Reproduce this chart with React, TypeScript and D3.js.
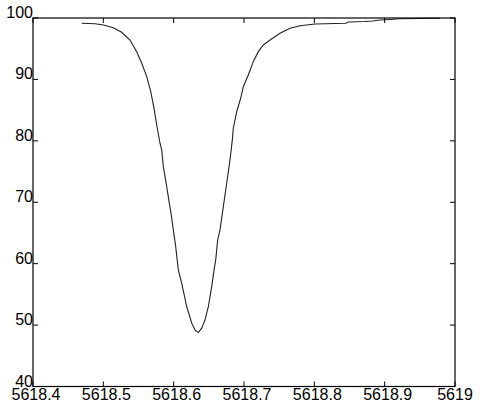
import React from "react";
import * as d3 from "d3";

// Wavelength (Å) and normalised flux (%) of the absorption line profile
const wavelength = [
  5618.4692, 5618.4882, 5618.5, 5618.5142, 5618.5261, 5618.5379, 5618.5474, 5618.5546,
  5618.5617, 5618.5674, 5618.572, 5618.5767, 5618.5806, 5618.583, 5618.5853, 5618.5901,
  5618.5938, 5618.5962, 5618.5995, 5618.6029, 5618.6066, 5618.6114, 5618.6185, 5618.6257,
  5618.6303, 5618.635, 5618.6399, 5618.6446, 5618.6493, 5618.6541, 5618.6574, 5618.6598,
  5618.6626, 5618.6659, 5618.6706, 5618.6754, 5618.6801, 5618.6834, 5618.6848, 5618.6896,
  5618.6953, 5618.699, 5618.7061, 5618.7132, 5618.7203, 5618.7275, 5618.737, 5618.7512,
  5618.7654, 5618.7796, 5618.801, 5618.845, 5618.8479, 5618.8721, 5618.8825, 5618.8934,
  5618.9076, 5618.9218, 5618.9503, 5618.9787,
];
const flux = [
  99.14, 99.07, 98.86, 98.42, 97.67, 96.42, 94.52, 92.63,
  90.45, 88.01, 85.31, 82.05, 79.61, 78.52, 75.8, 72.55,
  69.85, 68.22, 65.5, 62.78, 58.99, 56.83, 53.02, 50.32,
  49.23, 48.79, 49.5, 50.85, 53.02, 56.27, 58.99, 60.62,
  63.87, 65.5, 69.29, 73.1, 76.89, 80.15, 82.05, 84.75,
  86.93, 88.82, 90.72, 92.89, 94.52, 95.61, 96.42, 97.51,
  98.32, 98.75, 99.02, 99.14, 99.35, 99.43, 99.51, 99.67,
  99.76, 99.87, 99.92, 99.95,
];

const xTicks = [5618.4, 5618.5, 5618.6, 5618.7, 5618.8, 5618.9, 5619];
const xTickLabels = ["5618.4", "5618.5", "5618.6", "5618.7", "5618.8", "5618.9", "5619"];
const yTicks = [40, 50, 60, 70, 80, 90, 100];

const W = 480;
const H = 409;
const left = 33;
const right = 455;
const top = 18;
const bottom = 386.5;
const tickLen = 5;
const font = "'Liberation Sans', Arial, sans-serif";

export default function App() {
  const x = d3.scaleLinear().domain([5618.4, 5619]).range([left, right]);
  const y = d3.scaleLinear().domain([40, 100]).range([bottom, top]);
  const line = d3
    .line<number>()
    .x((_, i) => x(wavelength[i]))
    .y((d) => y(d));

  return (
    <svg
      width={W}
      height={H}
      style={{ position: "absolute", left: 0, top: 0, background: "#fff" }}
    >
      <path d={line(flux) ?? ""} fill="none" stroke="#222" strokeWidth={1.1} />
      <rect
        x={left}
        y={top}
        width={right - left}
        height={bottom - top}
        fill="none"
        stroke="#000"
        strokeWidth={1.2}
      />
      {xTicks.map((t, i) => (
        <g key={"x" + t}>
          <line x1={x(t)} x2={x(t)} y1={bottom} y2={bottom - tickLen} stroke="#000" />
          <line x1={x(t)} x2={x(t)} y1={top} y2={top + tickLen} stroke="#000" />
          <text
            x={x(t) + (i === xTicks.length - 1 ? 0 : 3)}
            y={400}
            textAnchor="middle"
            fontFamily={font}
            fontSize={16}
            fill="#000"
          >
            {xTickLabels[i]}
          </text>
        </g>
      ))}
      {yTicks.map((t) => (
        <g key={"y" + t}>
          <line x1={left} x2={left + tickLen} y1={y(t)} y2={y(t)} stroke="#000" />
          <line x1={right} x2={right - tickLen} y1={y(t)} y2={y(t)} stroke="#000" />
          <text
            x={left}
            y={y(t)}
            textAnchor="end"
            fontFamily={font}
            fontSize={16}
            fill="#000"
          >
            {t}
          </text>
        </g>
      ))}
    </svg>
  );
}
